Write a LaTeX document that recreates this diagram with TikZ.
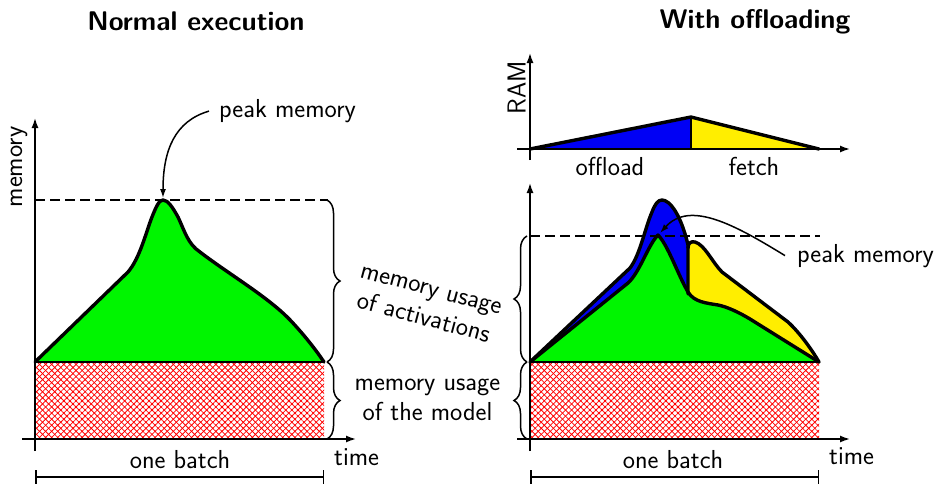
\documentclass[tikz,border=0pt]{standalone}
\usepackage{fontspec}
\usetikzlibrary{arrows.meta,decorations.pathreplacing,patterns.meta}
\definecolor{actgreen}{RGB}{0,245,0}
\definecolor{offblue}{RGB}{0,0,245}
\definecolor{fetchyellow}{RGB}{255,238,0}
\begin{document}
\begin{tikzpicture}[x=1pt,y=-1pt,
  lbl/.style={font=\fontsize{26}{30}\selectfont\sffamily, inner sep=0pt},
  ttl/.style={font=\fontsize{27}{32}\selectfont\sffamily\bfseries, inner sep=0pt},
  axisline/.style={line width=1.5pt,-{Latex[length=10pt,width=7pt]}},
  curveline/.style={line width=3.4pt,line join=round,line cap=round},
  baserule/.style={line width=1.6pt},
  peakline/.style={line width=2.8pt,dash pattern=on 10pt off 5pt},
  membrace/.style={line width=1.5pt,decorate,decoration={brace,amplitude=13pt}},
  callout/.style={line width=1.5pt,-{Latex[length=9pt,width=6pt]}},
  batchspan/.style={line width=1.5pt,{Bar[width=14pt]}-{Bar[width=14pt]}},
  hatchA/.style={pattern={Lines[angle=45,distance=4.3pt,line width=0.8pt]},pattern color=red},
  hatchB/.style={pattern={Lines[angle=-45,distance=4.3pt,line width=0.8pt]},pattern color=red},
]
\useasboundingbox (0,0) rectangle (937,483);

% ---------------- titles ----------------
\node[ttl,anchor=base] (t1) at (196,30) {Normal execution};
\node[ttl,anchor=base] (t2) at (755,28) {With offloading};

% ================= left: normal execution =================
% model memory
\fill[hatchA] (35,362) rectangle (324,439);
\fill[hatchB] (35,362) rectangle (324,439);
% activations
\fill[actgreen] (35,362) -- (128,272) .. controls (140,258) and (146,232) .. (152,217)
  .. controls (156,207) and (159,200) .. (163,200) .. controls (168,200) and (173,208) .. (178,217)
  .. controls (185,232) and (188,244) .. (200,252) .. controls (230,275) and (270,298) .. (292,322)
  .. controls (305,336) and (316,350) .. (324,362) -- cycle;
\draw[curveline] (35,362) -- (128,272) .. controls (140,258) and (146,232) .. (152,217)
  .. controls (156,207) and (159,200) .. (163,200) .. controls (168,200) and (173,208) .. (178,217)
  .. controls (185,232) and (188,244) .. (200,252) .. controls (230,275) and (270,298) .. (292,322)
  .. controls (305,336) and (316,350) .. (324,362);
\coordinate (Lb0) at (35,362); \coordinate (Lb1) at (324,362);
\draw[baserule] (Lb0) -- (Lb1);

% axes
\coordinate (Lyb) at (35,451); \coordinate (Lyt) at (35,118);
\coordinate (Lxl) at (22,439); \coordinate (Lxr) at (356,439);
\draw[axisline] (Lyb) -- (Lyt);
\draw[axisline] (Lxl) -- (Lxr);
\node[lbl,rotate=90] (Lmem) at (19,167) {memory};
\node[lbl,anchor=base west] (Ltime) at (334,465) {time};

% peak level
\coordinate (Lpk) at (163,200);
\coordinate (Ld0) at (35,200); \coordinate (Ld1) at (328,200);
\draw[peakline] (Ld0) -- (Ld1);
\node[lbl,anchor=base west] (Lpeak) at (219,117.5) {peak memory};
\coordinate (Lpktip) at (163,198);
\draw[callout] ([xshift=-10pt]Lpeak.west) .. controls (175,121) and (163,150) .. (Lpktip);

% braces
\coordinate (Lbr0) at (327,200); \coordinate (Lbr1) at (327,362); \coordinate (Lbr2) at (327,439);
\draw[membrace] (Lbr0) -- (Lbr1);
\draw[membrace] (Lbr1) -- (Lbr2);

% one batch
\coordinate (Lsp0) at (35,477); \coordinate (Lsp1) at (324,477);
\draw[batchspan] (Lsp0) -- (Lsp1);
\node[lbl,anchor=base] (Lbatch) at (180,468) {one batch};

% ---------------- middle labels ----------------
\node[lbl,align=center,rotate=-15] (act) at (427,305) {memory usage\\of activations};
\node[lbl,align=center] (model) at (427.5,400) {memory usage\\of the model};

% ================= right: RAM plot =================
\fill[offblue] (530,149) -- (691,117) -- (691,149) -- cycle;
\fill[fetchyellow] (691,117) -- (819,149) -- (691,149) -- cycle;
\coordinate (R0) at (530,149); \coordinate (Rtop) at (691,117);
\coordinate (Rend) at (819,149); \coordinate (Rmid) at (691,149);
\draw[curveline] (R0) -- (Rtop) -- (Rend);
\draw[line width=2.6pt] (Rtop) -- (Rmid);
\coordinate (Ryb) at (530,160); \coordinate (Ryt) at (530,53);
\coordinate (Rxl) at (517,149); \coordinate (Rxr) at (850,149);
\draw[axisline] (Ryb) -- (Ryt);
\draw[axisline] (Rxl) -- (Rxr);
\node[lbl,rotate=90] (ram) at (516.5,87.5) {RAM};
\node[lbl,anchor=base] (offl) at (610,175) {offload};
\node[lbl,anchor=base] (fetch) at (754,175) {fetch};

% ================= right: with offloading =================
\fill[hatchA] (530,362) rectangle (819,439);
\fill[hatchB] (530,362) rectangle (819,439);
% offloaded activations
\fill[offblue] (530,362) -- (630,268) .. controls (640,255) and (645,228) .. (652,212)
  .. controls (655,204) and (658,200) .. (662,200) .. controls (670,200) and (681,215) .. (688,245)
  -- (688,298) -- cycle;
% fetched activations
\fill[fetchyellow] (688,298) -- (688,248) .. controls (688,243) and (691,241) .. (695,242)
  .. controls (705,245) and (712,262) .. (722,272) -- (788,322)
  .. controls (800,333) and (812,350) .. (819,362) -- cycle;
% activations kept on the device
\fill[actgreen] (530,362) -- (628,283) .. controls (640,272) and (648,245) .. (658,235)
  .. controls (668,245) and (678,275) .. (688,292) .. controls (694,302) and (706,303) .. (718,305)
  .. controls (728,307) and (740,313) .. (750,319) -- (819,362) -- cycle;
\draw[curveline] (530,362) -- (630,268) .. controls (640,255) and (645,228) .. (652,212)
  .. controls (655,204) and (658,200) .. (662,200) .. controls (670,200) and (681,215) .. (688,245)
  -- (688,294);
\draw[curveline] (688,248) .. controls (688,243) and (691,241) .. (695,242)
  .. controls (705,245) and (712,262) .. (722,272) -- (788,322)
  .. controls (800,333) and (812,350) .. (819,362);
\draw[curveline] (530,362) -- (628,283) .. controls (640,272) and (648,245) .. (658,235)
  .. controls (668,245) and (678,275) .. (688,292) .. controls (694,302) and (706,303) .. (718,305)
  .. controls (728,307) and (740,313) .. (750,319) -- (819,362);
\coordinate (Rb0) at (530,362); \coordinate (Rb1) at (819,362);
\draw[baserule] (Rb0) -- (Rb1);

% axes
\coordinate (Qyb) at (530,451); \coordinate (Qyt) at (530,183);
\coordinate (Qxl) at (517,439); \coordinate (Qxr) at (850,439);
\draw[axisline] (Qyb) -- (Qyt);
\draw[axisline] (Qxl) -- (Qxr);
\node[lbl,anchor=base west] (Rtime) at (829,464) {time};

% peak level
\coordinate (Rd0) at (530,236); \coordinate (Rd1) at (820,236);
\draw[peakline] (Rd0) -- (Rd1);
\node[lbl,anchor=base west] (Rpeak) at (797,262) {peak memory};
\coordinate (Rpktip) at (660,233);
\draw[callout] ([xshift=-12pt]Rpeak.west) .. controls (735,225) and (690,200) .. (Rpktip);

% braces
\coordinate (Rbr0) at (527,236); \coordinate (Rbr1) at (527,362); \coordinate (Rbr2) at (527,439);
\draw[membrace] (Rbr1) -- (Rbr0);
\draw[membrace] (Rbr2) -- (Rbr1);

% one batch
\coordinate (Rsp0) at (530,477); \coordinate (Rsp1) at (819,477);
\draw[batchspan] (Rsp0) -- (Rsp1);
\node[lbl,anchor=base] (Rbatch) at (673,468) {one batch};
\end{tikzpicture}
\end{document}
